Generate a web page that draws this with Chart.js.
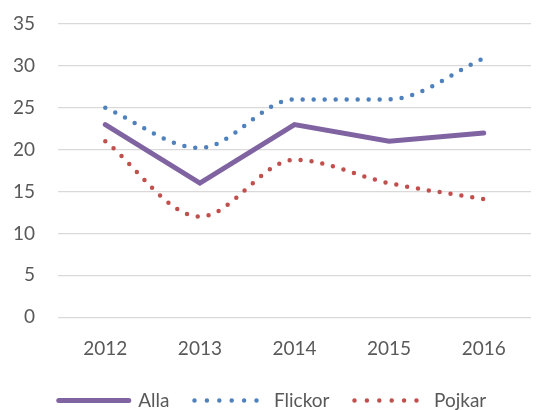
<!DOCTYPE html>
<html><head><meta charset="utf-8">
<script src="https://cdn.jsdelivr.net/npm/chart.js@4"></script>
<style>html,body{margin:0;padding:0;background:#fff}#w{width:540px;height:410px}</style>
</head><body><div id="w"><canvas id="c"></canvas></div>
<script>
const categories = ["2012","2013","2014","2015","2016"];
const alla = [23, 16, 23, 21, 22];
const flickor = [25, 20.2, 26, 26, 30.9];
const pojkar = [21, 12, 18.8, 16, 14.1];
const yTicks = [0,5,10,15,20,25,30,35];

const font = {family: "Lato, 'Open Sans', sans-serif", size: 19};
new Chart(document.getElementById('c'), {
  type: 'line',
  data: {
    labels: categories,
    datasets: [
      {label:'Alla', data: alla, borderColor:'#8064a2', backgroundColor:'#8064a2', borderWidth:5, pointRadius:0, tension:0, borderCapStyle:'round', borderJoinStyle:'miter'},
      {label:'Flickor', data: flickor, borderColor:'#4f81bd', backgroundColor:'#4f81bd', borderWidth:4.5, borderDash:[0,11], borderCapStyle:'round', pointRadius:0, cubicInterpolationMode:'monotone'},
      {label:'Pojkar', data: pojkar, borderColor:'#c0504d', backgroundColor:'#c0504d', borderWidth:4.5, borderDash:[0,11], borderCapStyle:'round', pointRadius:0, cubicInterpolationMode:'monotone'}
    ]
  },
  options: {
    responsive:true, maintainAspectRatio:false, animation:false,
    layout:{padding:{left:14,right:9,top:24,bottom:-10}},
    plugins:{
      legend:{position:'bottom', labels:{usePointStyle:true, pointStyle:'line', pointStyleWidth:70, color:'#595959', font:font, padding:25,
        generateLabels:(chart)=>chart.data.datasets.map((ds,i)=>({
          text: ds.label, fillStyle: ds.borderColor, strokeStyle: ds.borderColor, fontColor:'#595959',
          lineWidth: ds.borderWidth, lineDash: ds.borderDash ? [0,12.4] : [], lineCap:'round', pointStyle:'line', hidden:false, datasetIndex:i
        }))
      }},
      tooltip:{enabled:false}
    },
    scales:{
      x:{offset:true, grid:{display:false}, border:{display:false}, ticks:{color:'#595959', font:font, padding:12}, afterFit:(s)=>{s.height = s.height - 6;}},
      y:{min:0, max:35, afterBuildTicks:(s)=>{s.ticks = yTicks.map(v=>({value:v}));}, afterFit:(s)=>{s.width = 44; s.paddingTop = 0; s.paddingBottom = 0;}, grid:{color:'#d9d9d9', lineWidth:1.2, drawTicks:false}, border:{display:false}, ticks:{color:'#595959', font:font, padding:23}}
    }
  }
});
</script></body></html>
